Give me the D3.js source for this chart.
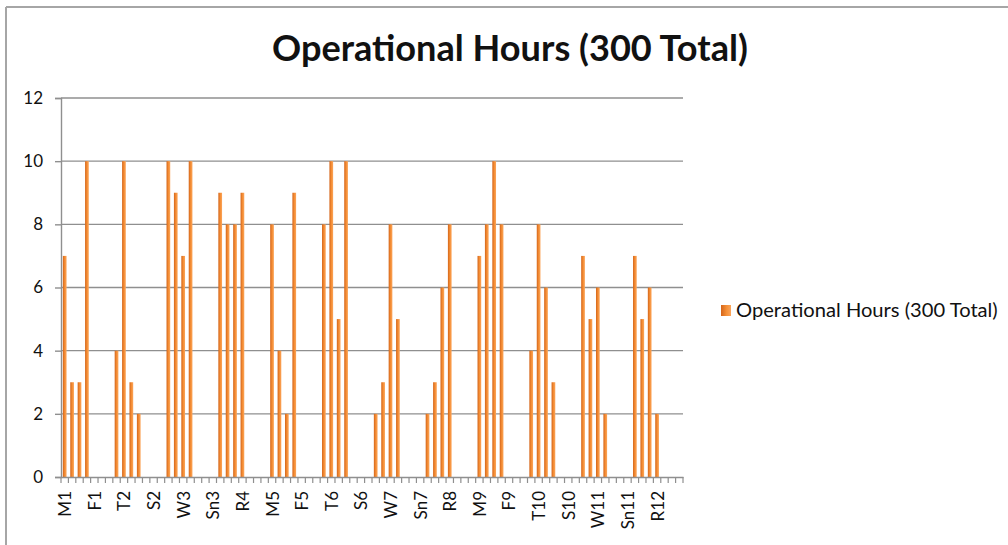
<!DOCTYPE html>
<html>
<head>
<meta charset="utf-8">
<script src="https://cdn.jsdelivr.net/npm/d3@7"></script>
<style>
  html, body { margin: 0; padding: 0; background: #fff; }
  svg { display: block; }
  text { font-family: Lato, "Open Sans", "Liberation Sans", sans-serif; fill: #111; }
</style>
</head>
<body>
<svg id="chart" width="1008" height="545"></svg>
<script>
const chartTitle = "Operational Hours (300 Total)";
const seriesName = "Operational Hours (300 Total)";
const categories = [
  "M1","T1","W1","R1","F1","S1","Sn1",
  "M2","T2","W2","R2","F2","S2","Sn2",
  "M3","T3","W3","R3","F3","S3","Sn3",
  "M4","T4","W4","R4","F4","S4","Sn4",
  "M5","T5","W5","R5","F5","S5","Sn5",
  "M6","T6","W6","R6","F6","S6","Sn6",
  "M7","T7","W7","R7","F7","S7","Sn7",
  "M8","T8","W8","R8","F8","S8","Sn8",
  "M9","T9","W9","R9","F9","S9","Sn9",
  "M10","T10","W10","R10","F10","S10","Sn10",
  "M11","T11","W11","R11","F11","S11","Sn11",
  "M12","T12","W12","R12","F12","S12","Sn12"
];
const hours = [
  7,3,3,10,0,0,0,
  4,10,3,2,0,0,0,
  10,9,7,10,0,0,0,
  9,8,8,9,0,0,0,
  8,4,2,9,0,0,0,
  8,10,5,10,0,0,0,
  2,3,8,5,0,0,0,
  2,3,6,8,0,0,0,
  7,8,10,8,0,0,0,
  4,8,6,3,0,0,0,
  7,5,6,2,0,0,0,
  7,5,6,2,0,0,0
];
const yTicks = [0,2,4,6,8,10,12];
const xLabelEvery = 4;

const svg = d3.select("#chart");
const L = 61, R = 683, T = 98, B = 477;

// outer frame (partially visible)
svg.append("line").attr("x1",6).attr("y1",7).attr("x2",1008).attr("y2",7)
  .attr("stroke","#a6a6a6").attr("stroke-width",2);
svg.append("line").attr("x1",6).attr("y1",7).attr("x2",6).attr("y2",545)
  .attr("stroke","#a6a6a6").attr("stroke-width",2);

const x = d3.scaleBand().domain(categories).range([L, R]).padding(0);
const y = d3.scaleLinear().domain([0, 12]).range([B, T]);

const defs = svg.append("defs");
const grad = defs.append("linearGradient").attr("id","barGrad")
  .attr("x1","0").attr("y1","0").attr("x2","1").attr("y2","0");
grad.append("stop").attr("offset","0%").attr("stop-color","#d4651a");
grad.append("stop").attr("offset","55%").attr("stop-color","#f58f36");
grad.append("stop").attr("offset","100%").attr("stop-color","#fba55c");

// gridlines
svg.append("g").selectAll("line").data(yTicks.filter(d => d > 0)).join("line")
  .attr("x1", L).attr("x2", R)
  .attr("y1", d => y(d)).attr("y2", d => y(d))
  .attr("stroke", "#8f8f8f").attr("stroke-width", 1.4);

// bars
const bw = x.bandwidth() * 0.5;
svg.append("g").selectAll("rect").data(hours.map((v,i)=>({c:categories[i], v})).filter(d => d.v > 0)).join("rect")
  .attr("x", d => x(d.c) + x.bandwidth()/2 - bw/2)
  .attr("width", bw)
  .attr("y", d => y(d.v))
  .attr("height", d => B - y(d.v))
  .attr("fill", "url(#barGrad)");

// y axis
const yAxis = d3.axisLeft(y).tickValues(yTicks).tickSize(6).tickPadding(12).tickFormat(d3.format("d"));
const gy = svg.append("g").attr("transform", `translate(${L},0)`).call(yAxis);
gy.select(".domain").attr("stroke","#8f8f8f").attr("stroke-width",1.4);
gy.selectAll(".tick line").attr("stroke","#8f8f8f").attr("stroke-width",1.4);
gy.selectAll(".tick text").style("font-family","Lato, 'Open Sans', sans-serif").style("font-size","17px").attr("fill","#222");

// x axis
const xAxis = d3.axisBottom(x).tickSize(0).tickFormat("");
const gx = svg.append("g").attr("transform", `translate(0,${B})`).call(xAxis);
gx.select(".domain").attr("stroke","#8f8f8f").attr("stroke-width",1.4);
gx.selectAll(".tick").remove();
// boundary tick marks
const bounds = categories.map(c => x(c)).concat([R]);
gx.append("g").selectAll("line").data(bounds).join("line")
  .attr("x1", d => d).attr("x2", d => d).attr("y1", 0).attr("y2", 6)
  .attr("stroke","#8f8f8f").attr("stroke-width",1.2);
// labels
gx.append("g").selectAll("text").data(categories.filter((c,i) => i % xLabelEvery === 0)).join("text")
  .attr("transform", d => `translate(${x(d) + x.bandwidth()/2},${491 - B}) rotate(-90)`)
  .attr("text-anchor","end")
  .attr("dy","0.38em")
  .style("font-size","17px")
  .attr("fill","#222")
  .text(d => d);

// title
function fitText(sel, target) {
  const w = sel.node().getComputedTextLength();
  const fs = parseFloat(sel.style("font-size"));
  sel.style("font-size", (fs * target / w) + "px");
}
const title = svg.append("text").attr("x", 510).attr("y", 61).attr("text-anchor","middle")
  .style("font-weight","bold").style("font-size","30px").attr("fill","#000").text(chartTitle);
fitText(title, 476);

// legend
svg.append("rect").attr("x",721).attr("y",305).attr("width",10).attr("height",11).attr("fill","url(#barGrad)");
const lt = svg.append("text").attr("x",736).attr("y",317).style("font-size","16px").attr("fill","#222").text(seriesName);
fitText(lt, 262);
</script>
</body>
</html>
